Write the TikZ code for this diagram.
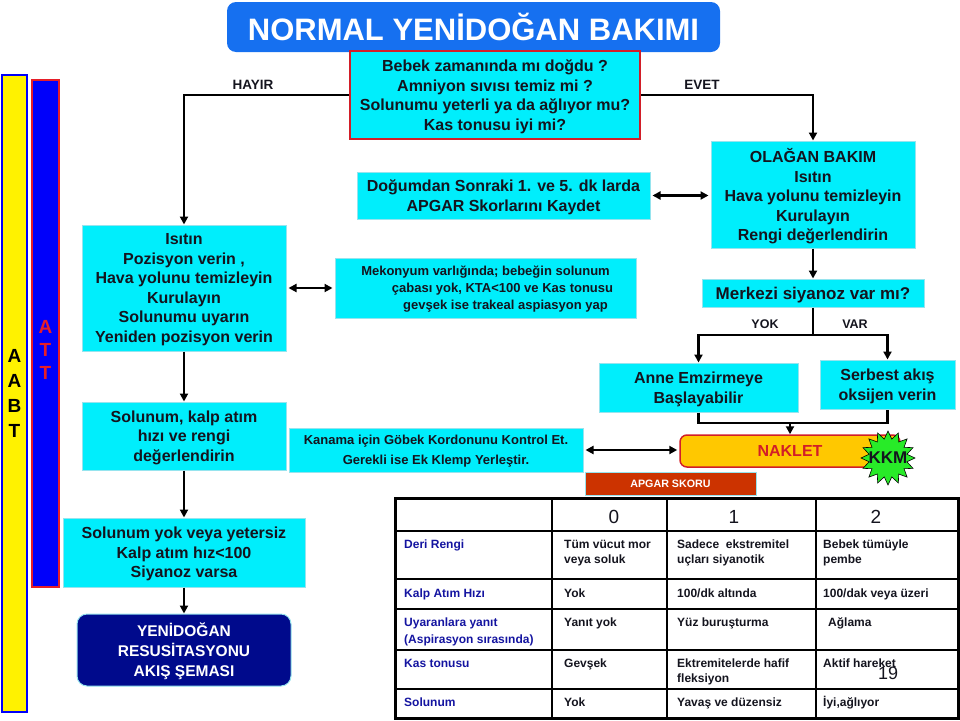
\documentclass[tikz,border=0pt]{standalone}
\usepackage{fontspec}
\setmainfont{Liberation Sans}
\usetikzlibrary{arrows.meta,shapes.geometric}
\definecolor{cyanf}{RGB}{0,238,252}
\definecolor{cyanb}{RGB}{150,228,238}
\definecolor{qred}{RGB}{210,30,40}
\definecolor{titleblue}{RGB}{22,112,240}
\definecolor{txt}{RGB}{20,20,30}
\definecolor{barblue}{RGB}{0,0,250}
\definecolor{barred}{RGB}{230,30,40}
\definecolor{navyb}{RGB}{0,10,140}
\definecolor{gold}{RGB}{255,200,0}
\definecolor{apgarred}{RGB}{204,51,0}
\definecolor{kgreen}{RGB}{40,235,40}
\definecolor{tblue}{RGB}{20,20,160}
\newcommand\myfs[2]{\fontsize{#1}{#2}\selectfont}
\begin{document}
\begin{tikzpicture}[x=1pt,y=-1pt,
  cbox/.style={fill=cyanf, draw=cyanb, line width=1pt, inner sep=0pt, align=center, text depth=0pt,
    text=txt, font=\bfseries\myfs{16}{19.5}},
  conn/.style={line width=2.5pt},
  arr/.style={line width=2.5pt, -{Triangle[length=8pt,width=8pt]}},
  darr/.style={line width=2.5pt, {Triangle[length=8pt,width=8pt]}-{Triangle[length=8pt,width=8pt]}, shorten >=2pt, shorten <=2pt},
  lbl/.style={font=\bfseries\myfs{13.5}{16}, inner sep=0pt, text=txt},
  tc/.style={inner sep=0pt, anchor=west, text height=8.6pt, text depth=0pt, font=\bfseries\myfs{12}{15}, text=txt},
  tl/.style={tc, text=tblue},
  th/.style={inner sep=0pt, font=\myfs{19}{22}, text=txt}
]
\useasboundingbox (0,0) rectangle (960,720);

% left bars
\node[fill=yellow, draw=barblue, line width=1.5pt, minimum width=25pt, minimum height=637pt, inner sep=0pt,
  align=center, text depth=0pt, font=\bfseries\myfs{19}{25}] (aabt) at (14.5,393.5) {A\\A\\B\\T};
\node[fill=barblue, draw=barred, line width=1.5pt, minimum width=27pt, minimum height=507pt, inner sep=0pt,
  label={[align=center, text=barred, font=\bfseries\myfs{19}{23}, text depth=0pt, inner sep=0pt, yshift=-16pt]center:{A\\T\\T}}] (att) at (45.5,333.5) {};

% title
\node[fill=titleblue, rounded corners=9pt, minimum width=493pt, minimum height=50pt, inner sep=0pt,
  text=white, font=\bfseries\myfs{31}{36}] (title) at (473.5,27) {NORMAL YENİDOĞAN BAKIMI};

% question
\node[cbox, draw=qred, line width=2pt, minimum width=290pt, minimum height=88pt] (q) at (495,95)
  {Bebek zamanında mı doğdu ?\\Amniyon sıvısı temiz mi ?\\Solunumu yeterli ya da ağlıyor mu?\\Kas tonusu iyi mi?};

% left column
\node[cbox, minimum width=204pt, minimum height=126pt] (isitin) at (184,288)
  {Isıtın\\Pozisyon verin ,\\Hava yolunu temizleyin\\Kurulayın\\Solunumu uyarın\\Yeniden pozisyon verin};
\node[cbox, minimum width=204pt, minimum height=68pt] (solk) at (184,436)
  {Solunum, kalp atım\\hızı ve rengi\\değerlendirin};
\node[cbox, minimum width=242pt, minimum height=69pt] (soly) at (184,552.5)
  {Solunum yok veya yetersiz\\Kalp atım hız<100\\Siyanoz varsa};
\node[fill=navyb, draw=cyanb, line width=1pt, rounded corners=10pt, minimum width=214pt, minimum height=72pt,
  inner sep=0pt, align=center, text depth=0pt, text=white, font=\bfseries\myfs{15.5}{20}] (yeni) at (184,650)
  {YENİDOĞAN\\RESUSİTASYONU\\AKIŞ ŞEMASI};

% middle column
\node[cbox, minimum width=293pt, minimum height=47pt] (dogum) at (503.5,195.5)
  {Doğumdan Sonraki 1. ve 5. dk larda\\APGAR Skorlarını Kaydet};
\node[cbox, minimum width=301pt, minimum height=60pt, font=\bfseries\myfs{13}{17}] (meko) at (485.5,288)
  {Mekonyum varlığında; bebeğin solunum\\\hspace*{34pt}çabası yok, KTA<100 ve Kas tonusu\\\hspace*{40pt}gevşek ise trakeal aspiasyon yap};
\node[cbox, minimum width=294pt, minimum height=44pt, font=\bfseries\myfs{13}{20}] (kan) at (436,450)
  {Kanama için Göbek Kordonunu Kontrol Et.\\Gerekli ise Ek Klemp Yerleştir.};

% right column
\node[cbox, minimum width=204pt, minimum height=107pt] (olagan) at (813,194.5)
  {OLAĞAN BAKIM\\Isıtın\\Hava yolunu temizleyin\\Kurulayın\\Rengi değerlendirin};
\node[cbox, minimum width=222pt, minimum height=28pt, font=\bfseries\myfs{17}{20}] (merk) at (813,293)
  {Merkezi siyanoz var mı?};
\node[cbox, minimum width=199pt, minimum height=49pt] (anne) at (698.5,387.5)
  {Anne Emzirmeye\\Başlayabilir};
\node[cbox, minimum width=135pt, minimum height=49pt] (serb) at (887.5,384.5)
  {Serbest akış\\oksijen verin};
\node[fill=gold, draw=qred, line width=1.5pt, rounded corners=7pt, minimum width=220pt, minimum height=32pt,
  inner sep=0pt, text=qred, font=\bfseries\myfs{16}{19}] (nak) at (790,451) {NAKLET};
\node[star, star points=16, star point ratio=1.4, minimum size=54pt, inner sep=0pt, fill=kgreen, draw=black,
  line width=0.6pt, label={[font=\bfseries\myfs{17}{20}, text=txt, inner sep=0pt]center:KKM}] (kkm) at (888,458) {};
\node[fill=apgarred, draw=cyanb, line width=0.8pt, minimum width=171pt, minimum height=23pt, inner sep=0pt,
  text=white, font=\bfseries\myfs{10.7}{13}] (apgar) at (670.5,483.5) {APGAR SKORU};

% labels
\node[lbl] (hayir) at (253,85) {HAYIR};
\node[lbl] (evet) at (702,85) {EVET};
\node[lbl, font=\bfseries\myfs{12.5}{15}] (yok) at (765,324) {YOK};
\node[lbl, font=\bfseries\myfs{12.5}{15}] (var) at (855,324) {VAR};

% connectors
\draw[arr] (q.west) -| (isitin.north);
\draw[arr] (q.east) -| (olagan.north);
\draw[arr] (isitin.south) -- (solk.north);
\draw[arr] (solk.south) -- (soly.north);
\draw[arr] (soly.south) -- (yeni.north);
\draw[darr] (isitin.east) -- (meko.west);
\draw[darr] (dogum.east) -- (dogum.east -| olagan.west);
\draw[darr] (kan.east) -- (kan.east -| nak.west);
\draw[arr] (olagan.south) -- (merk.north);
\coordinate (br) at (813,335);
\draw[conn] (merk.south) -- (br);
\draw[arr] (br) -| (anne.north);
\draw[arr] (br) -| (serb.north);
\coordinate (jn) at (790,423);
\draw[conn] (anne.south) |- (jn) -| (serb.south);
\draw[arr] (jn) -- (nak.north);

% APGAR table
\foreach \yy in {531,579,609,650,689} \draw[line width=1.5pt] (395,\yy) -- (958,\yy);
\foreach \xx in {552,667,816} \draw[line width=1.5pt] (\xx,498) -- (\xx,718);
\draw[line width=3pt] (395,498) rectangle (958,718);

\node[th] (h0) at (614,517) {0};
\node[th] (h1) at (734,517) {1};
\node[th] (h2) at (876,517) {2};

\node[tl] (r1) at (404,544) {Deri Rengi};
\node[tc] at (564,544) {Tüm vücut mor};
\node[tc] at (564,559) {veya soluk};
\node[tc] at (677,544) {Sadece\ \ ekstremitel};
\node[tc] at (677,559) {uçları siyanotik};
\node[tc] at (823,544) {Bebek tümüyle};
\node[tc] at (823,559) {pembe};

\node[tl] (r2) at (404,593) {Kalp Atım Hızı};
\node[tc] at (564,593) {Yok};
\node[tc] at (677,593) {100/dk altında};
\node[tc] at (823,593) {100/dak veya üzeri};

\node[tl] (r3) at (404,622) {Uyaranlara yanıt};
\node[tl] at (404,639) {(Aspirasyon sırasında)};
\node[tc] at (564,622) {Yanıt yok};
\node[tc] at (677,622) {Yüz buruşturma};
\node[tc] at (828,622) {Ağlama};

\node[tl] (r4) at (404,663) {Kas tonusu};
\node[tc] at (564,663) {Gevşek};
\node[tc] at (677,663) {Ektremitelerde hafif};
\node[tc] at (677,678) {fleksiyon};
\node[tc] at (823,663) {Aktif hareket};

\node[tl] (r5) at (404,702) {Solunum};
\node[tc] at (564,702) {Yok};
\node[tc] at (677,702) {Yavaş ve düzensiz};
\node[tc] at (823,702) {İyi,ağlıyor};

\node[th, font=\myfs{18}{20}] (pg) at (888,673) {19};
\end{tikzpicture}
\end{document}
